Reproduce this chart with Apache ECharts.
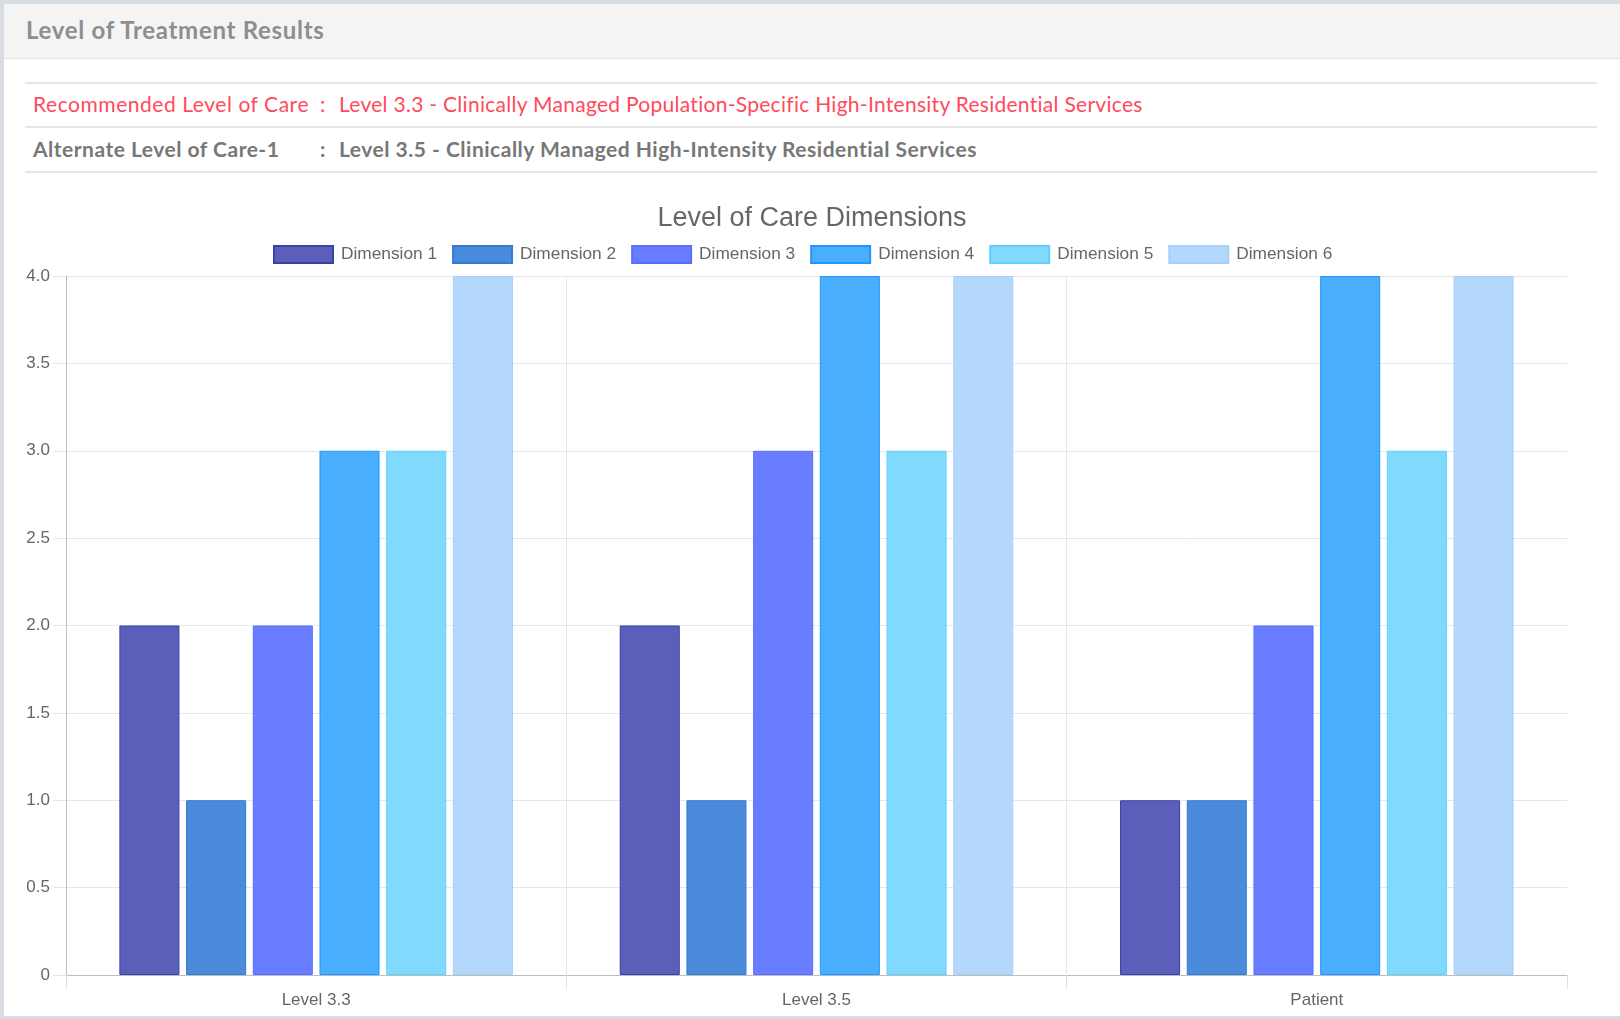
<!DOCTYPE html>
<html>
<head>
<meta charset="utf-8">
<script src="https://cdn.jsdelivr.net/npm/echarts@6/dist/echarts.min.js"></script>
<style>
  html, body { margin: 0; padding: 0; width: 1620px; height: 1019px; overflow: hidden; background: #d5dde5; }
  #card { position: absolute; left: 3px; top: 3px; width: 1630px; height: 1012px; background: #fff; border: 1px solid #dcdcdc; border-right: none; }
  #hdr { position: absolute; left: 0; top: 0; width: 100%; height: 54px; background: #f4f4f4; border-bottom: 1px solid #e6e6e6; }
  #hdr span { position: absolute; left: 22px; top: 25px; transform: translateY(-50%); font-family: Lato, sans-serif; font-weight: 700; font-size: 24px; letter-spacing: 0.7px; color: #8e8e8e; white-space: nowrap; }
  .line { position: absolute; left: 21px; width: 1572px; height: 0; border-top: 2px solid #e6e6e6; }
  .row { position: absolute; font-family: Lato, sans-serif; font-size: 21px; letter-spacing: 0.28px; white-space: nowrap; transform: translateY(-50%); }
  .red { color: #ff4a5c; }
  .gray { color: #777; font-weight: 700; letter-spacing: 0.5px; }
  #chart { position: absolute; left: 4px; top: 180px; width: 1616px; height: 836px; }
</style>
</head>
<body>
<div id="card">
  <div id="hdr"><span>Level of Treatment Results</span></div>
  <div class="line" style="top:78px"></div>
  <div class="row red" style="left:29px;top:99px;letter-spacing:0.55px">Recommended Level of Care</div>
  <div class="row red" style="left:316px;top:99px">:</div>
  <div class="row red" style="left:335px;top:99px">Level 3.3 - Clinically Managed Population-Specific High-Intensity Residential Services</div>
  <div class="line" style="top:122px"></div>
  <div class="row gray" style="left:29px;top:144px">Alternate Level of Care-1</div>
  <div class="row gray" style="left:316px;top:144px">:</div>
  <div class="row gray" style="left:335px;top:144px">Level 3.5 - Clinically Managed High-Intensity Residential Services</div>
  <div class="line" style="top:167px"></div>
</div>
<div id="chart"></div>
<script>
const categories = ['Level 3.3', 'Level 3.5', 'Patient'];
const seriesNames = ['Dimension 1', 'Dimension 2', 'Dimension 3', 'Dimension 4', 'Dimension 5', 'Dimension 6'];
const dimension1 = [2, 2, 1];
const dimension2 = [1, 1, 1];
const dimension3 = [2, 3, 2];
const dimension4 = [3, 4, 4];
const dimension5 = [3, 3, 3];
const dimension6 = [4, 4, 4];
const yTicks = [0, 0.5, 1, 1.5, 2, 2.5, 3, 3.5, 4];

const values = [dimension1, dimension2, dimension3, dimension4, dimension5, dimension6];
const fills = ['#5b5fb9', '#4b8bdc', '#687dff', '#4aaefe', '#7fdafe', '#b3d8fc'];
const borders = ['#3b3fa8', '#3479d6', '#5a6dff', '#1f96ff', '#5fd0ff', '#a5d0fa'];

const chart = echarts.init(document.getElementById('chart'), null, { renderer: 'canvas' });
chart.setOption({
  animation: false,
  backgroundColor: 'transparent',
  title: {
    text: 'Level of Care Dimensions',
    left: 'center',
    top: 25,
    padding: 0,
    textStyle: { fontFamily: 'Liberation Sans, Arial, sans-serif', fontSize: 27, fontWeight: 'normal', color: '#666' }
  },
  legend: {
    left: 269,
    top: 65,
    padding: 0,
    itemWidth: 59,
    itemHeight: 17,
    itemGap: 15,
    icon: 'rect',
    textStyle: { fontFamily: 'Liberation Sans, Arial, sans-serif', fontSize: 17.3, color: '#666', padding: [0, 0, 0, 3] },
    data: seriesNames
  },
  grid: { left: 62, top: 96, right: 53, bottom: 41, containLabel: false },
  xAxis: {
    type: 'category',
    data: categories,
    boundaryGap: true,
    axisLine: { show: true, lineStyle: { color: '#bdbdbd', width: 1 } },
    axisTick: { show: true, length: 14, lineStyle: { color: '#e0e0e0' } },
    splitLine: { show: true, showMaxLine: false, lineStyle: { color: '#e6e6e6' } },
    axisLabel: { margin: 17, fontFamily: 'Liberation Sans, Arial, sans-serif', fontSize: 17, color: '#666' }
  },
  yAxis: {
    type: 'value',
    min: yTicks[0],
    max: yTicks[yTicks.length - 1],
    interval: 0.5,
    axisLine: { show: true, lineStyle: { color: '#bdbdbd', width: 1 } },
    axisTick: { show: true, length: 13, lineStyle: { color: '#e6e6e6' } },
    splitLine: { show: true, lineStyle: { color: '#e6e6e6' } },
    axisLabel: {
      margin: 16,
      fontFamily: 'Liberation Sans, Arial, sans-serif',
      fontSize: 17,
      color: '#666',
      formatter: v => v === 0 ? '0' : v.toFixed(1)
    }
  },
  series: seriesNames.map((name, i) => ({
    name,
    type: 'bar',
    data: values[i],
    barWidth: '12%',
    barGap: '11.1%',
    itemStyle: { color: fills[i], borderColor: borders[i], borderWidth: 1 }
  }))
});
</script>
</body>
</html>
